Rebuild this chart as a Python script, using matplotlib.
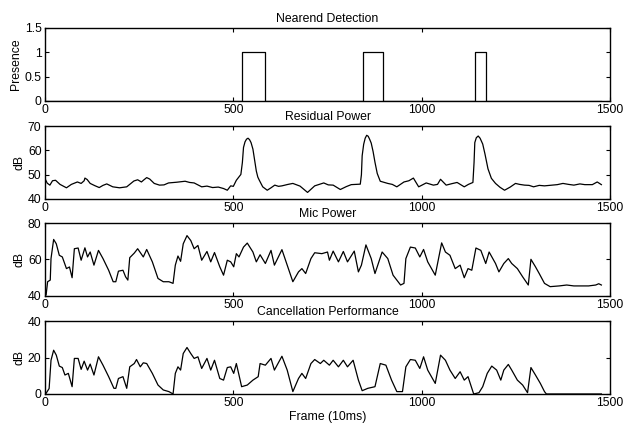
import numpy as np
import matplotlib.pyplot as plt

plt.rcParams["font.family"] = ["Liberation Sans", "DejaVu Sans"]
plt.rcParams["font.size"] = 8.8

# --- Nearend detection: on/off frames of each detected segment ---
near_on = [523, 845, 1141]
near_off = [584, 897, 1170]
near_end = 1477

# --- Residual power (frame, dB) ---
res_frame = [0, 6, 13, 20, 28, 40, 57, 70, 86, 96, 104, 106, 112, 120, 132, 144, 154, 164,
             180, 198, 217, 236, 246, 256, 262, 270, 278, 290, 304, 316, 328, 350, 372, 384,
             396, 416, 430, 445, 460, 474, 484, 493, 500, 508, 520, 524, 527, 531, 535,
             539, 543, 547, 552, 556, 561, 565, 569, 578, 590, 600, 610, 620, 629, 645, 658,
             677, 697, 716, 740, 752, 765, 784, 800, 813, 837, 840, 842, 846, 850, 854, 858,
             862, 866, 871, 876, 882, 890, 910, 922, 934, 953, 966, 978, 992, 1002, 1012,
             1031, 1042, 1050, 1065, 1080, 1094, 1113, 1124, 1136, 1139, 1141, 1145, 1150,
             1155, 1162, 1168, 1176, 1185, 1196, 1208, 1220, 1235, 1249, 1260, 1273, 1285,
             1297, 1312, 1326, 1346, 1360, 1375, 1390, 1404, 1420, 1433, 1453, 1466, 1477]
res_db = [48.4, 46.5, 45.7, 47.5, 47.7, 46.0, 44.6, 46.0, 47.0, 46.4, 47.5, 48.6, 48.0,
          46.4, 45.5, 44.7, 45.6, 46.2, 45.0, 44.6, 45.0, 47.4, 47.9, 47.0, 47.8, 48.8,
          48.2, 46.4, 45.7, 45.8, 46.6, 46.9, 47.3, 46.8, 46.6, 45.0, 45.3, 44.7, 44.9,
          44.3, 43.6, 45.4, 45.2, 47.7, 50.1, 55.0, 61.2, 63.5, 64.6, 65.0, 64.4, 63.2,
          60.5, 56.5, 51.5, 49.0, 47.7, 45.0, 43.6, 44.6, 45.7, 45.2, 45.4, 46.0, 46.4,
          45.3, 42.7, 45.4, 46.6, 45.8, 45.7, 43.9, 45.1, 45.9, 46.1, 50.0, 57.8, 62.5,
          65.0, 66.2, 65.8, 64.5, 63.0, 59.5, 55.1, 50.5, 47.3, 46.4, 46.0, 45.0, 47.0,
          47.5, 48.6, 45.0, 45.8, 46.6, 45.7, 46.0, 48.1, 45.7, 46.3, 46.8, 45.0, 46.0,
          46.8, 55.0, 63.2, 65.2, 65.9, 65.0, 62.6, 58.5, 52.4, 48.5, 46.4, 44.8, 43.6,
          44.9, 46.4, 46.0, 45.7, 45.6, 45.0, 45.6, 45.4, 45.7, 45.9, 46.4, 46.0, 45.7,
          46.2, 45.9, 45.9, 47.0, 45.9]

# --- Mic power (frame, dB) ---
mic_frame = [0, 3, 7, 14, 16, 23, 30, 38, 46, 57, 65, 72, 78, 88, 96, 106, 113, 120, 130,
             142, 154, 169, 181, 188, 195, 207, 214, 220, 225, 237, 246, 261, 270, 285,
             300, 314, 329, 340, 346, 353, 360, 367, 377, 387, 396, 406, 416, 430, 440,
             450, 464, 474, 484, 493, 501, 508, 515, 527, 537, 552, 561, 571, 585, 600,
             609, 629, 643, 658, 673, 682, 692, 706, 716, 735, 750, 755, 765, 779, 792,
             803, 821, 832, 840, 852, 866, 876, 895, 910, 924, 944, 953, 958, 970, 983,
             995, 1005, 1016, 1036, 1053, 1063, 1075, 1089, 1102, 1113, 1123, 1133, 1144,
             1157, 1170, 1179, 1196, 1205, 1218, 1230, 1239, 1254, 1268, 1283, 1290, 1302,
             1312, 1326, 1341, 1365, 1385, 1404, 1423, 1443, 1462, 1470, 1477]
mic_db = [40.0, 40.6, 47.8, 48.7, 60.5, 71.0, 68.6, 62.3, 61.4, 55.0, 55.9, 50.0, 65.9,
          66.3, 59.6, 66.4, 61.4, 64.1, 56.9, 65.0, 60.5, 54.1, 47.8, 47.8, 53.6, 54.1,
          50.5, 48.7, 61.0, 63.5, 65.9, 61.4, 65.5, 58.7, 49.6, 47.8, 47.8, 46.9, 56.9,
          61.9, 59.0, 68.6, 73.1, 70.4, 65.9, 67.7, 59.6, 64.4, 58.7, 63.8, 56.0, 51.4,
          59.6, 58.7, 56.0, 63.2, 61.4, 66.8, 69.0, 64.1, 58.7, 62.6, 57.8, 65.0, 56.9,
          65.4, 56.9, 47.8, 53.2, 55.0, 52.3, 60.5, 63.7, 63.2, 64.1, 59.6, 64.6, 58.7,
          64.4, 58.7, 64.6, 53.2, 56.9, 68.0, 60.5, 52.3, 64.1, 60.5, 51.4, 46.0, 46.9,
          60.5, 66.8, 66.3, 61.4, 65.5, 58.7, 51.4, 69.1, 64.1, 62.3, 55.0, 56.9, 50.0,
          55.0, 54.1, 66.3, 65.0, 57.8, 64.1, 57.8, 53.2, 57.8, 60.5, 57.8, 55.0, 50.5,
          46.0, 60.1, 56.0, 52.3, 46.9, 45.1, 45.5, 46.0, 45.5, 45.5, 45.5, 46.0, 46.7, 46.0]

# --- Cancellation performance (frame, dB) ---
canc_frame = [0, 3, 11, 16, 23, 30, 38, 46, 53, 62, 72, 78, 88, 96, 104, 113, 120, 130,
              142, 154, 169, 183, 188, 195, 207, 217, 225, 237, 243, 253, 261, 270, 285,
              300, 314, 329, 340, 346, 353, 360, 367, 377, 387, 396, 406, 416, 430, 440,
              450, 464, 474, 484, 493, 501, 508, 515, 522, 537, 552, 566, 571, 585, 600,
              609, 629, 643, 658, 673, 682, 692, 706, 716, 731, 740, 755, 765, 779, 792,
              803, 818, 832, 842, 857, 876, 890, 905, 920, 934, 949, 958, 970, 983, 995,
              1005, 1016, 1036, 1050, 1063, 1075, 1089, 1102, 1113, 1123, 1138, 1152,
              1162, 1174, 1186, 1199, 1210, 1218, 1230, 1239, 1254, 1268, 1281, 1290,
              1302, 1315, 1326, 1331, 1477]
canc_db = [0.0, 0.4, 3.0, 18.5, 24.0, 21.3, 15.3, 14.5, 10.4, 11.3, 4.0, 19.5, 19.5,
           13.5, 18.0, 13.1, 16.4, 10.4, 20.4, 15.8, 9.5, 3.1, 3.1, 8.5, 9.5, 3.1, 14.9,
           16.7, 18.9, 14.9, 17.1, 16.7, 11.3, 4.9, 2.2, 1.3, 0.0, 11.3, 14.9, 13.1, 22.2,
           25.5, 22.2, 19.5, 20.4, 14.0, 19.5, 13.1, 18.5, 8.5, 7.6, 14.5, 14.9, 11.3,
           16.7, 10.4, 4.0, 4.9, 7.6, 9.5, 16.7, 15.8, 19.5, 13.1, 20.7, 13.1, 1.3, 8.5,
           11.3, 8.5, 16.7, 18.9, 16.7, 18.5, 15.8, 18.5, 14.9, 18.5, 14.9, 18.5, 7.6,
           1.8, 3.1, 4.0, 16.7, 15.8, 7.6, 1.3, 1.3, 14.9, 18.9, 18.5, 14.0, 20.4, 13.1,
           5.8, 21.3, 18.5, 13.1, 8.5, 12.2, 7.6, 9.5, 0.0, 0.7, 4.0, 11.3, 15.3, 13.1,
           7.6, 13.1, 16.2, 13.1, 7.6, 4.9, 0.7, 14.5, 10.4, 5.8, 1.3, 0.0, 0.0]

# build step trace for nearend detection
near_x = [0]
near_y = [0]
for on, off in zip(near_on, near_off):
    near_x += [on, on, off, off]
    near_y += [0, 1, 1, 0]
near_x.append(near_end)
near_y.append(0)

fig = plt.figure(figsize=(6.23, 4.24), dpi=100)

panels = [
    (near_x, near_y, "Nearend Detection", "Presence", (0, 1.5), [0, 0.5, 1, 1.5], ["0", "0.5", "1", "1.5"]),
    (res_frame, res_db, "Residual Power", "dB", (40, 70), [40, 50, 60, 70], None),
    (mic_frame, mic_db, "Mic Power", "dB", (40, 80), [40, 60, 80], None),
    (canc_frame, canc_db, "Cancellation Performance", "dB", (0, 40), [0, 20, 40], None),
]
bottoms = [0.762, 0.5307, 0.302, 0.0708]

for (x, y, title, ylab, ylim, yt, ytl), b in zip(panels, bottoms):
    ax = fig.add_axes([0.0722, b, 0.907, 0.172])
    ax.plot(x, y, color="black", lw=0.9)
    ax.set_xlim(0, 1500)
    ax.set_ylim(*ylim)
    ax.set_xticks([0, 500, 1000, 1500])
    ax.set_yticks(yt)
    if ytl:
        ax.set_yticklabels(ytl)
    ax.set_title(title, fontsize=8.8, pad=4)
    ax.set_ylabel(ylab, labelpad=2)
    ax.tick_params(direction="in", top=True, right=True, length=3, width=0.8, pad=2.5)
    for s in ax.spines.values():
        s.set_linewidth(1.0)

ax.set_xlabel("Frame (10ms)", labelpad=1)

fig.savefig("out.png", dpi=100)
